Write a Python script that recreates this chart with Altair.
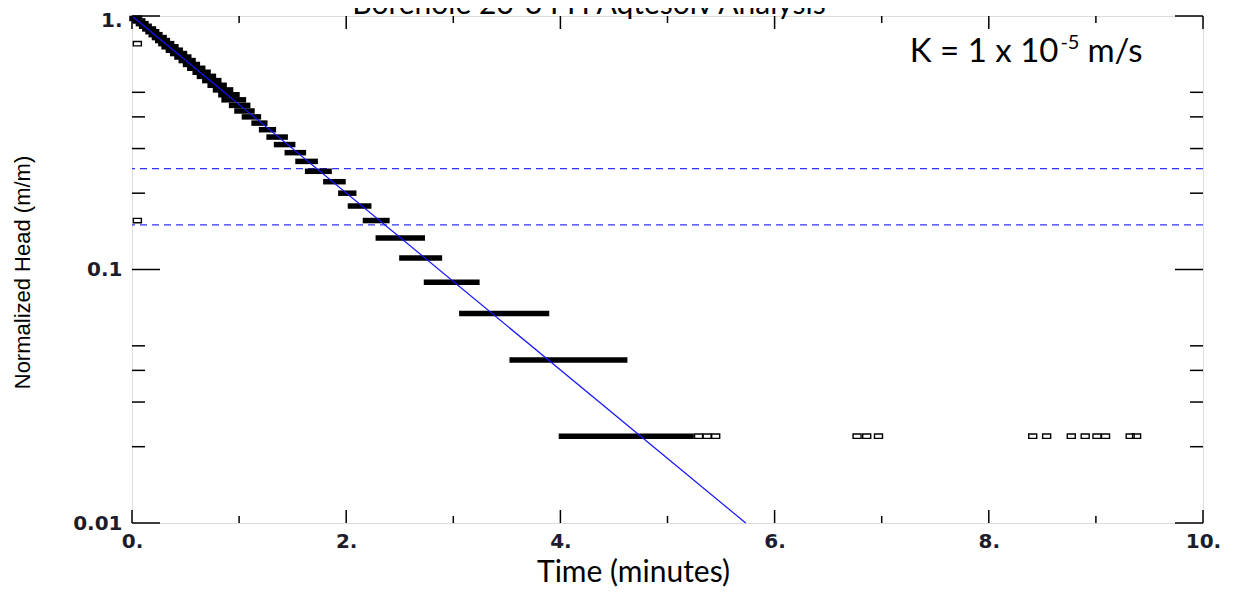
import altair as alt
import pandas as pd

# ---------------- data ----------------
# quantised head levels (m/m) and the time span (min) over which each level was logged
run_head = [0.978, 0.956, 0.933, 0.911, 0.889, 0.867, 0.844, 0.822, 0.800, 0.778,
            0.756, 0.733, 0.711, 0.689, 0.667, 0.644, 0.622, 0.600, 0.578, 0.556,
            0.533, 0.511, 0.489, 0.467, 0.444, 0.422, 0.400, 0.378, 0.356, 0.333,
            0.311, 0.289, 0.267, 0.244, 0.222, 0.200, 0.178, 0.156, 0.133, 0.111,
            0.089, 0.067, 0.044, 0.022]
run_start = [0.00, 0.03, 0.06, 0.09, 0.12, 0.15, 0.18, 0.21, 0.24, 0.27,
             0.30, 0.34, 0.38, 0.42, 0.46, 0.50, 0.54, 0.59, 0.63, 0.68,
             0.73, 0.78, 0.83, 0.86, 0.93, 0.98, 1.05, 1.14, 1.21, 1.28,
             1.35, 1.45, 1.55, 1.64, 1.81, 1.95, 2.04, 2.18, 2.30, 2.52,
             2.75, 3.08, 3.55, 4.01]
run_end = [0.07, 0.10, 0.13, 0.16, 0.20, 0.23, 0.26, 0.30, 0.33, 0.37,
           0.41, 0.45, 0.49, 0.53, 0.57, 0.61, 0.66, 0.71, 0.76, 0.81,
           0.86, 0.92, 0.98, 1.04, 1.08, 1.12, 1.18, 1.24, 1.32, 1.43,
           1.50, 1.60, 1.71, 1.84, 1.97, 2.07, 2.21, 2.38, 2.71, 2.87,
           3.22, 3.87, 4.60, 5.22]

# isolated observations (open squares)
pt_time = [0.05, 0.05, 0.05, 5.29, 5.37, 5.45, 6.77, 6.86, 6.97, 8.41, 8.54,
           8.77, 8.90, 9.01, 9.09, 9.32, 9.38]
pt_head = [0.978, 0.778, 0.156, 0.022, 0.022, 0.022, 0.022, 0.022, 0.022, 0.022, 0.022,
           0.022, 0.022, 0.022, 0.022, 0.022, 0.022]

# Aqtesolv type-curve match (straight line on semi-log axes)
fit_time = [0.0, 5.73]
fit_head = [1.0, 0.01]

# normalized-head window lines
window_head = [0.25, 0.15]

# axis ticks
y_major = [1.0, 0.1, 0.01]
y_minor = [0.5, 0.4, 0.3, 0.2, 0.05, 0.04, 0.03, 0.02]
x_major = [0, 2, 4, 6, 8, 10]
x_minor = [1, 3, 5, 7, 9]

title_text = "Borehole 26-3 FH Aqtesolv Analysis"
k_main, k_sup, k_unit = "K = 1 x 10", "-5", "m/s"
k_time, k_head = [8.65], [0.659]

# ---------------- chart ----------------
W, H = 1071, 507

xs = alt.Scale(domain=[0, 10], nice=False, zero=False)
ys = alt.Scale(type="log", domain=[0.01, 1], nice=False)

x_axis = alt.Axis(values=x_major, labelExpr="datum.value + '.'", ticks=False, tickSize=0,
                  domain=False, grid=False, labelFont="DejaVu Sans", labelFontWeight="bold",
                  labelFontSize=20, labelColor="#1c1c2a", labelPadding=8, labelFlush=False,
                  labelOverlap=False, title="Time (minutes)", titleFont="Lato",
                  titleFontSize=30, titleFontWeight="normal", titleColor="black",
                  titleX=501, titleY=58, titleAlign="center", titleBaseline="alphabetic")
y_axis = alt.Axis(values=y_major,
                  labelExpr="datum.value > 0.5 ? '1.' : (datum.value > 0.05 ? '0.1' : '0.01')",
                  ticks=False, tickSize=0, domain=False, grid=False, labelFont="DejaVu Sans",
                  labelFontWeight="bold", labelFontSize=20, labelColor="#1c1c2a",
                  labelPadding=10, labelFlush=False, labelOverlap=False,
                  labelOffset={"condition": {"test": "datum.value > 0.5", "value": 4}, "value": 0},
                  title="Normalized Head (m/m)", titleFont="Liberation Sans", titleFontSize=22,
                  titleFontWeight="normal", titleColor="black", titleX=-110, titleY=256,
                  titleAngle=270, titleAlign="center", titleBaseline="middle")

runs = pd.DataFrame({"head": run_head, "t0": run_start, "t1": run_end})
pts = pd.DataFrame({"t": pt_time, "head": pt_head})
fit = pd.DataFrame({"t": fit_time, "head": fit_head})
win = pd.DataFrame({"v": window_head})
ymaj = pd.DataFrame({"v": y_major})
ymin = pd.DataFrame({"v": y_minor})
xmaj = pd.DataFrame({"v": x_major})
xmin = pd.DataFrame({"v": x_minor})
kdf = pd.DataFrame({"t": k_time, "head": k_head})

window_lines = alt.Chart(win).mark_rule(color="#3030ff", strokeWidth=1.4, strokeDash=[7, 5]).encode(
    y=alt.Y("v:Q", scale=ys, axis=y_axis))

run_bars = alt.Chart(runs).mark_rule(color="black", strokeWidth=5.5, strokeCap="square").encode(
    x=alt.X("t0:Q", scale=xs, axis=x_axis), x2="t1:Q",
    y=alt.Y("head:Q", scale=ys, axis=y_axis))

squares = alt.Chart(pts).mark_point(
    shape="M-1,-0.55L1,-0.55L1,0.55L-1,0.55Z", size=64, filled=False,
    stroke="black", strokeWidth=1.4, opacity=1).encode(
    x=alt.X("t:Q", scale=xs, axis=x_axis), y=alt.Y("head:Q", scale=ys, axis=y_axis))

fit_line = alt.Chart(fit).mark_line(color="#1414ff", strokeWidth=1.2).encode(
    x=alt.X("t:Q", scale=xs, axis=x_axis), y=alt.Y("head:Q", scale=ys, axis=y_axis))

tick_style = dict(color="black", strokeWidth=1.5)
left_major = alt.Chart(ymaj).mark_rule(**tick_style).encode(
    y=alt.Y("v:Q", scale=ys, axis=y_axis), x=alt.value(0), x2=alt.value(28))
right_major = alt.Chart(ymaj).mark_rule(**tick_style).encode(
    y=alt.Y("v:Q", scale=ys, axis=y_axis), x=alt.value(W), x2=alt.value(W - 28))
left_minor = alt.Chart(ymin).mark_rule(**tick_style).encode(
    y=alt.Y("v:Q", scale=ys, axis=y_axis), x=alt.value(0), x2=alt.value(13))
right_minor = alt.Chart(ymin).mark_rule(**tick_style).encode(
    y=alt.Y("v:Q", scale=ys, axis=y_axis), x=alt.value(W), x2=alt.value(W - 13))
bottom_major = alt.Chart(xmaj).mark_rule(**tick_style).encode(
    x=alt.X("v:Q", scale=xs, axis=x_axis), y=alt.value(H), y2=alt.value(H - 13))
top_major = alt.Chart(xmaj).mark_rule(**tick_style).encode(
    x=alt.X("v:Q", scale=xs, axis=x_axis), y=alt.value(0), y2=alt.value(13))
bottom_minor = alt.Chart(xmin).mark_rule(**tick_style).encode(
    x=alt.X("v:Q", scale=xs, axis=x_axis), y=alt.value(H), y2=alt.value(H - 7))
top_minor = alt.Chart(xmin).mark_rule(**tick_style).encode(
    x=alt.X("v:Q", scale=xs, axis=x_axis), y=alt.value(0), y2=alt.value(7))

k_text = alt.Chart(kdf).mark_text(font="Lato", fontSize=33, align="right",
                                  baseline="alphabetic", color="black").encode(
    x=alt.X("t:Q", scale=xs, axis=x_axis), y=alt.Y("head:Q", scale=ys, axis=y_axis),
    text=alt.value(k_main))
k_sup_text = alt.Chart(kdf).mark_text(font="Lato", fontSize=20, align="left",
                                      baseline="alphabetic", dx=2, dy=-13, color="black").encode(
    x=alt.X("t:Q", scale=xs, axis=x_axis), y=alt.Y("head:Q", scale=ys, axis=y_axis),
    text=alt.value(k_sup))
k_unit_text = alt.Chart(kdf).mark_text(font="Lato", fontSize=33, align="left",
                                       baseline="alphabetic", dx=29, color="black").encode(
    x=alt.X("t:Q", scale=xs, axis=x_axis), y=alt.Y("head:Q", scale=ys, axis=y_axis),
    text=alt.value(k_unit))

title_mark = alt.Chart(pd.DataFrame({"s": [title_text]})).mark_text(
    font="Lato", fontSize=30, align="center", baseline="alphabetic", color="black").encode(
    x=alt.value(457), y=alt.value(-2), text="s:N")

chart = alt.layer(
    window_lines, run_bars, squares, fit_line,
    left_major, right_major, left_minor, right_minor,
    bottom_major, top_major, bottom_minor, top_minor,
    k_text, k_sup_text, k_unit_text, title_mark,
).properties(
    width=W, height=H,
    autosize=alt.AutoSizeParams(type="none"),
    padding={"left": 124, "top": 8, "right": 22, "bottom": 67},
).configure_view(stroke="black", strokeWidth=2).configure(background="white")

chart.save("out.html", embed_options={"renderer": "svg", "actions": False})
